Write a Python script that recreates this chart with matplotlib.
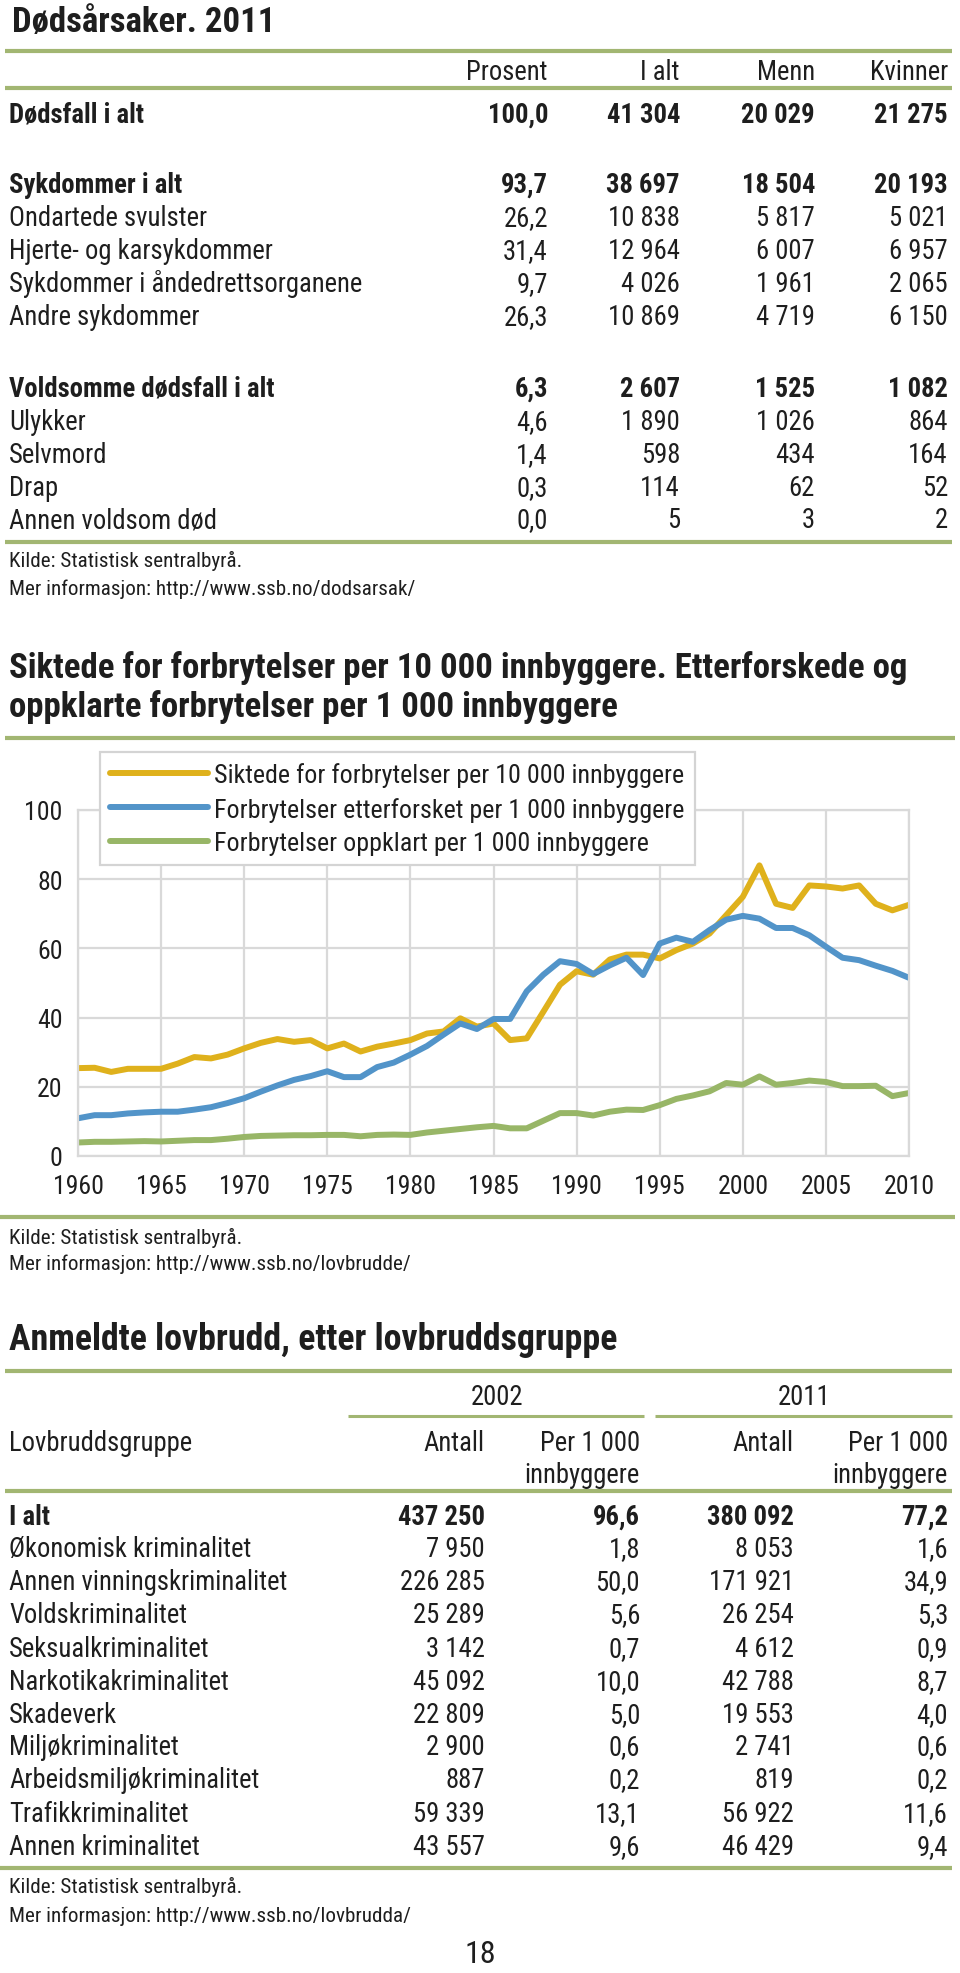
import matplotlib
matplotlib.use("Agg")
import matplotlib.pyplot as plt
from matplotlib.lines import Line2D
from matplotlib import font_manager
from matplotlib.legend_handler import HandlerLine2D

# ---------------- data ----------------
dod_rows = ["Dødsfall i alt", "Sykdommer i alt", "Ondartede svulster", "Hjerte- og karsykdommer",
            "Sykdommer i åndedrettsorganene", "Andre sykdommer", "Voldsomme dødsfall i alt",
            "Ulykker", "Selvmord", "Drap", "Annen voldsom død"]
dod_bold = [True, True, False, False, False, False, True, False, False, False, False]
dod_cols = ["Prosent", "I alt", "Menn", "Kvinner"]
dod_prosent = ["100,0", "93,7", "26,2", "31,4", "9,7", "26,3", "6,3", "4,6", "1,4", "0,3", "0,0"]
dod_ialt = ["41 304", "38 697", "10 838", "12 964", "4 026", "10 869", "2 607", "1 890", "598", "114", "5"]
dod_menn = ["20 029", "18 504", "5 817", "6 007", "1 961", "4 719", "1 525", "1 026", "434", "62", "3"]
dod_kvinner = ["21 275", "20 193", "5 021", "6 957", "2 065", "6 150", "1 082", "864", "164", "52", "2"]

years = list(range(1960, 2011))
siktede = [25.4, 25.5, 24.3, 25.2, 25.2, 25.2, 26.7, 28.6, 28.2, 29.3,
           31.1, 32.7, 33.8, 33.0, 33.5, 31.1, 32.5, 30.2, 31.6, 32.5,
           33.5, 35.4, 36.0, 39.8, 37.4, 38.3, 33.5, 34.0, 41.7, 49.5,
           53.4, 52.4, 56.8, 58.2, 58.2, 57.1, 59.5, 61.4, 64.3, 69.6,
           74.9, 84.0, 72.9, 71.7, 78.2, 77.9, 77.3, 78.2, 72.9, 71.0, 72.6]
etterforsket = [10.9, 11.8, 11.8, 12.3, 12.6, 12.8, 12.8, 13.4, 14.1, 15.3,
                16.7, 18.6, 20.4, 22.0, 23.1, 24.5, 22.8, 22.8, 25.7, 27.0,
                29.3, 31.8, 35.1, 38.3, 36.7, 39.6, 39.6, 47.6, 52.4, 56.3,
                55.5, 52.6, 55.1, 57.3, 52.3, 61.4, 63.1, 61.9, 65.3, 68.3,
                69.4, 68.6, 65.9, 65.9, 63.8, 60.5, 57.3, 56.6, 55.0, 53.5, 51.5]
oppklart = [3.9, 4.1, 4.1, 4.2, 4.3, 4.2, 4.4, 4.6, 4.6, 5.0,
            5.5, 5.8, 5.9, 6.0, 6.0, 6.1, 6.1, 5.7, 6.1, 6.2,
            6.1, 6.8, 7.3, 7.8, 8.3, 8.7, 8.0, 8.0, 10.2, 12.4,
            12.4, 11.7, 12.8, 13.4, 13.3, 14.7, 16.5, 17.5, 18.7, 21.1,
            20.6, 23.0, 20.6, 21.1, 21.8, 21.4, 20.2, 20.2, 20.3, 17.3, 18.2]
series_labels = ["Siktede for forbrytelser per 10 000 innbyggere",
                 "Forbrytelser etterforsket per 1 000 innbyggere",
                 "Forbrytelser oppklart per 1 000 innbyggere"]
xticks = [1960, 1965, 1970, 1975, 1980, 1985, 1990, 1995, 2000, 2005, 2010]
yticks = [0, 20, 40, 60, 80, 100]

lov_rows = ["I alt", "Økonomisk kriminalitet", "Annen vinningskriminalitet", "Voldskriminalitet",
            "Seksualkriminalitet", "Narkotikakriminalitet", "Skadeverk", "Miljøkriminalitet",
            "Arbeidsmiljøkriminalitet", "Trafikkriminalitet", "Annen kriminalitet"]
lov_antall_2002 = ["437 250", "7 950", "226 285", "25 289", "3 142", "45 092", "22 809", "2 900", "887", "59 339", "43 557"]
lov_per_2002 = ["96,6", "1,8", "50,0", "5,6", "0,7", "10,0", "5,0", "0,6", "0,2", "13,1", "9,6"]
lov_antall_2011 = ["380 092", "8 053", "171 921", "26 254", "4 612", "42 788", "19 553", "2 741", "819", "56 922", "46 429"]
lov_per_2011 = ["77,2", "1,6", "34,9", "5,3", "0,9", "8,7", "4,0", "0,6", "0,2", "11,6", "9,4"]

# ---------------- font choice (prefer a narrow/condensed sans) ----------------
entries = font_manager.fontManager.ttflist
FONT, STRETCH, SCALE = "Liberation Sans", "normal", 0.84
found = False
for fam in ["Liberation Sans Narrow", "Arial Narrow", "Roboto Condensed", "Open Sans Condensed"]:
    if any(f.name == fam for f in entries):
        FONT, STRETCH, SCALE, found = fam, "normal", 1.0, True
        break
if not found:
    for fam in ["Noto Sans", "Open Sans", "Roboto", "DejaVu Sans"]:
        cond = [f for f in entries if f.name == fam and str(f.stretch) in
                ("condensed", "semi-condensed", "extra-condensed", "75", "87.5", "62.5", "700", "600")]
        if cond:
            FONT, STRETCH, SCALE, found = fam, "condensed", 1.0, True
            break

plt.rcParams["font.family"] = [FONT, "DejaVu Sans"]
plt.rcParams["font.stretch"] = STRETCH

W, H = 960, 1974
TXT = "#1e1e1e"
GREEN = "#a2b672"
GRID = "#d9d9d9"
C_Y = "#dfb11c"
C_B = "#5294c9"
C_G = "#98b667"

BODY = 19.2 * SCALE
TITLE = 25 * SCALE
TITLE3 = 25.8 * SCALE
SMALL = 15.2 * SCALE
LEGF = 18.7 * SCALE
TICKF = 18.5 * SCALE

fig = plt.figure(figsize=(W / 100, H / 100), dpi=100)
fig.patch.set_facecolor("white")


def T(x, y, s, ha="left", size=BODY, bold=False, color=TXT):
    fig.text(x / W, 1 - y / H, s, ha=ha, va="baseline", fontsize=size,
             fontweight="bold" if bold else "normal", color=color, fontstretch=STRETCH)


def RULE(x0, x1, y, lw=3.0):
    fig.add_artist(Line2D([x0 / W, x1 / W], [1 - y / H, 1 - y / H], color=GREEN, lw=lw,
                          solid_capstyle="butt"))


# ---------------- top table ----------------
T(12, 32, "Dødsårsaker. 2011", size=TITLE, bold=True)
RULE(5, 952, 52)
col_x = [548, 680, 815, 948]
for cx, c in zip(col_x, dod_cols):
    T(cx, 80, c, ha="right")
RULE(5, 952, 89)
row_y = [123, 193, 226, 259, 292, 325, 397, 430, 463, 496, 528]
for i, r in enumerate(dod_rows):
    b = dod_bold[i]
    y = row_y[i]
    T(9, y, r, bold=b)
    for cx, vals in zip(col_x, [dod_prosent, dod_ialt, dod_menn, dod_kvinner]):
        T(cx, y, vals[i], ha="right", bold=b)
RULE(5, 952, 543)
T(9, 567, "Kilde: Statistisk sentralbyrå.", size=SMALL)
T(9, 595, "Mer informasjon: http://www.ssb.no/dodsarsak/", size=SMALL)

# ---------------- chart ----------------
T(9, 678, "Siktede for forbrytelser per 10 000 innbyggere. Etterforskede og", size=TITLE, bold=True)
T(9, 717, "oppklarte forbrytelser per 1 000 innbyggere", size=TITLE, bold=True)
RULE(5, 955, 739)

x0, x1, ytop, ybot = 78, 909, 811, 1157
ax = fig.add_axes([x0 / W, 1 - ybot / H, (x1 - x0) / W, (ybot - ytop) / H])
ax.set_xlim(1960, 2010)
ax.set_ylim(0, 100)
ax.set_xticks(xticks)
ax.set_yticks(yticks)
ax.set_xticklabels([str(v) for v in xticks], fontstretch=STRETCH)
ax.set_yticklabels([str(v) for v in yticks], fontstretch=STRETCH)
ax.grid(True, color=GRID, lw=1.6)
ax.set_axisbelow(True)
for s in ax.spines.values():
    s.set_color(GRID)
    s.set_linewidth(1.6)
ax.tick_params(axis="both", length=0, labelsize=TICKF, colors=TXT)
ax.tick_params(axis="y", pad=11)
ax.tick_params(axis="x", pad=13)
lw = 4.3
l1, = ax.plot(years, siktede, color=C_Y, lw=lw, solid_joinstyle="round", solid_capstyle="butt")
l2, = ax.plot(years, etterforsket, color=C_B, lw=lw, solid_joinstyle="round", solid_capstyle="butt")
l3, = ax.plot(years, oppklart, color=C_G, lw=lw, solid_joinstyle="round", solid_capstyle="butt")


class ShiftedLine(HandlerLine2D):
    """Legend line that starts a little to the right inside its handle box."""
    def create_artists(self, legend, orig_handle, xdescent, ydescent, width, height,
                       fontsize, trans):
        arts = super().create_artists(legend, orig_handle, xdescent, ydescent, width,
                                      height, fontsize, trans)
        for a in arts:
            if isinstance(a, Line2D) and len(a.get_xdata()) == 2:
                a.set_xdata([-xdescent + 0.24 * width, width - xdescent])
        return arts


leg = ax.legend([l1, l2, l3], series_labels, loc="upper left",
                bbox_to_anchor=(100 / W, 1 - 753 / H), bbox_transform=fig.transFigure,
                prop={"size": LEGF, "stretch": STRETCH}, frameon=True, fancybox=False,
                framealpha=1, edgecolor="#d4d4d4", handlelength=3.75,
                handletextpad=0.25, labelspacing=0.36, borderpad=0.4, borderaxespad=0,
                handler_map={Line2D: ShiftedLine()})
leg.get_frame().set_linewidth(1.6)
for t in leg.get_texts():
    t.set_color(TXT)
for h in leg.legend_handles:
    h.set_solid_capstyle("round")

RULE(0, 955, 1218)
T(9, 1244, "Kilde: Statistisk sentralbyrå.", size=SMALL)
T(9, 1270, "Mer informasjon: http://www.ssb.no/lovbrudde/", size=SMALL)

# ---------------- bottom table ----------------
T(9, 1350, "Anmeldte lovbrudd, etter lovbruddsgruppe", size=TITLE3, bold=True)
RULE(5, 952, 1372)
T(497, 1405, "2002", ha="center")
T(804, 1405, "2011", ha="center")
RULE(348, 644, 1417, lw=2.2)
RULE(655, 952, 1417, lw=2.2)
lcol = [485, 640, 794, 948]
T(9, 1451, "Lovbruddsgruppe")
T(lcol[0], 1451, "Antall", ha="right")
T(lcol[1], 1451, "Per 1 000", ha="right")
T(lcol[1], 1483, "innbyggere", ha="right")
T(lcol[2], 1451, "Antall", ha="right")
T(lcol[3], 1451, "Per 1 000", ha="right")
T(lcol[3], 1483, "innbyggere", ha="right")
RULE(5, 952, 1492)
lrow_y = [1525, 1557, 1590, 1623, 1657, 1690, 1723, 1755, 1788, 1822, 1855]
for i, r in enumerate(lov_rows):
    b = (i == 0)
    y = lrow_y[i]
    T(9, y, r, bold=b)
    for cx, vals in zip(lcol, [lov_antall_2002, lov_per_2002, lov_antall_2011, lov_per_2011]):
        T(cx, y, vals[i], ha="right", bold=b)
RULE(0, 952, 1869)
T(9, 1893, "Kilde: Statistisk sentralbyrå.", size=SMALL)
T(9, 1922, "Mer informasjon: http://www.ssb.no/lovbrudda/", size=SMALL)
T(480, 1963, "18", ha="center", size=23 * SCALE)

fig.savefig("out.png", dpi=100, facecolor="white")
